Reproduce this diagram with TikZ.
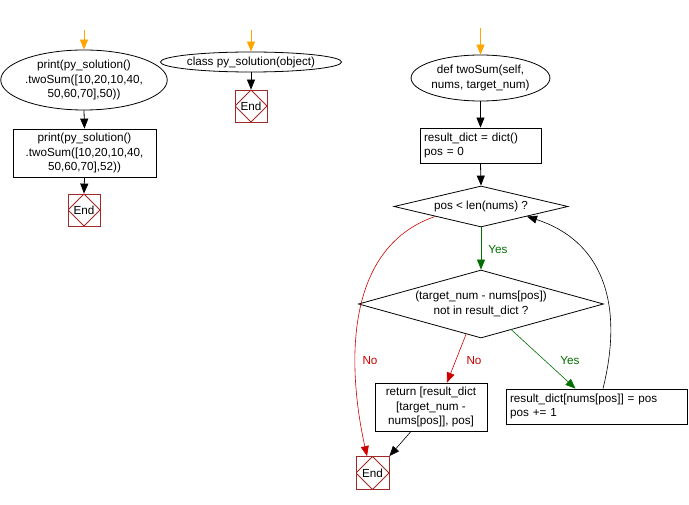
\documentclass[tikz,border=0pt]{standalone}
\usepackage{fontspec}
\setmainfont{Liberation Sans}
\usetikzlibrary{shapes.geometric,arrows.meta,calc}
\definecolor{orng}{RGB}{255,165,0}
\definecolor{nored}{RGB}{204,0,0}
\definecolor{yesgreen}{RGB}{0,110,0}
\definecolor{endred}{RGB}{160,40,40}
\begin{document}
\begin{tikzpicture}[x=1pt,y=-1pt, font=\fontsize{11.7}{14.5}\selectfont, line width=0.8pt,
  arr/.style={-{Triangle[length=10pt,width=8pt]}},
  term/.style={ellipse,draw,inner sep=0pt,align=center},
  proc/.style={rectangle,draw,inner sep=4pt,align=center},
  procl/.style={rectangle,draw,inner sep=4pt,align=left},
  dec/.style={diamond,draw,inner sep=0pt,align=center},
  endbox/.style={rectangle,draw=endred,minimum size=32pt,inner sep=0pt,
    path picture={\draw[endred,line width=0.8pt] (path picture bounding box.north)--(path picture bounding box.east)--(path picture bounding box.south)--(path picture bounding box.west)--cycle;}},
  yeslab/.style={text=yesgreen},
  nolab/.style={text=nored}]
\useasboundingbox (0,0) rectangle (689,505);

% left column
\coordinate (s1) at (84,30);
\node[term,minimum width=158pt,minimum height=60pt] (e1) at (84,80) {print(py\_solution()\\.twoSum([10,20,10,40,\\50,60,70],50))};
\node[proc,minimum width=143pt,minimum height=48pt] (r1) at (84.5,153) {print(py\_solution()\\.twoSum([10,20,10,40,\\50,60,70],52))};
\node[endbox] (end1) at (84,210) {End};
\draw[arr,orng] (s1) -- (e1.north);
\draw[arr] (e1.south) -- (r1.north);
\draw[arr] (r1.south) -- (end1.north);

% middle column
\coordinate (s2) at (251,30);
\node[term,minimum width=162pt,minimum height=20pt] (e2) at (251,62) {class py\_solution(object)};
\node[endbox] (end2) at (251,106) {End};
\draw[arr,orng] (s2) -- (e2.north);
\draw[arr] (e2.south) -- (end2.north);

% right column
\coordinate (s3) at (480.5,28);
\node[term,minimum width=132pt,minimum height=46pt] (e3) at (480.5,78) {def twoSum(self,\\nums, target\_num)};
\node[procl,text width=113pt,minimum height=35pt] (r3) at (480.5,145.5) {result\_dict = dict()\\pos = 0};
\node[dec,shape aspect=4.24,minimum width=174pt,minimum height=41pt] (d1) at (481,206.5) {pos < len(nums) ?};
\node[dec,shape aspect=3.6,inner sep=-3pt,minimum width=245pt,minimum height=68pt] (d2) at (481,304) {(target\_num - nums[pos])\\not in result\_dict ?};
\node[proc,minimum width=112pt,minimum height=48pt] (r4) at (431,407) {return [result\_dict\\{}[target\_num -\\nums[pos]], pos]};
\node[procl,text width=173pt,minimum height=35pt] (r5) at (596.5,406.5) {result\_dict[nums[pos]] = pos\\pos += 1};
\node[endbox,minimum size=33pt] (end3) at (372.5,473) {End};

\draw[arr,orng] (s3) -- (e3.north);
\draw[arr] (e3.south) -- (r3.north);
\draw[arr] (r3.south) -- (d1.north);
\draw[arr,yesgreen] (d1.south) -- (d2.north);
\node[yeslab] (y1) at (498,250) {Yes};

\draw[arr,nored,line width=0.6pt] ($(d2.south)+(-15,-4)$) -- ($(r4.north)+(16,0)$);
\node[nolab] (n2) at (474,361) {No};

\draw[arr,yesgreen,line width=0.6pt] ($(d2.south)+(30,-9)$) -- ($(r5.north)+(-21,0)$);
\node[yeslab] (y2) at (570,361) {Yes};

\draw[arr,line width=0.6pt] ($(r4.south)+(-20,0)$) -- (end3.north east);

\draw[arr,nored,line width=0.6pt] ($(d1.center)+(-46,10)$) .. controls (338,250) and (350,380) .. ($(end3.north)+(-5.5,0)$);
\node[nolab] (n1) at (370,361) {No};

\draw[arr,line width=0.6pt] ($(r5.north)+(6.5,0)$) .. controls (625,300) and (600,240) .. ($(d1.center)+(46,10)$);
\end{tikzpicture}
\end{document}
